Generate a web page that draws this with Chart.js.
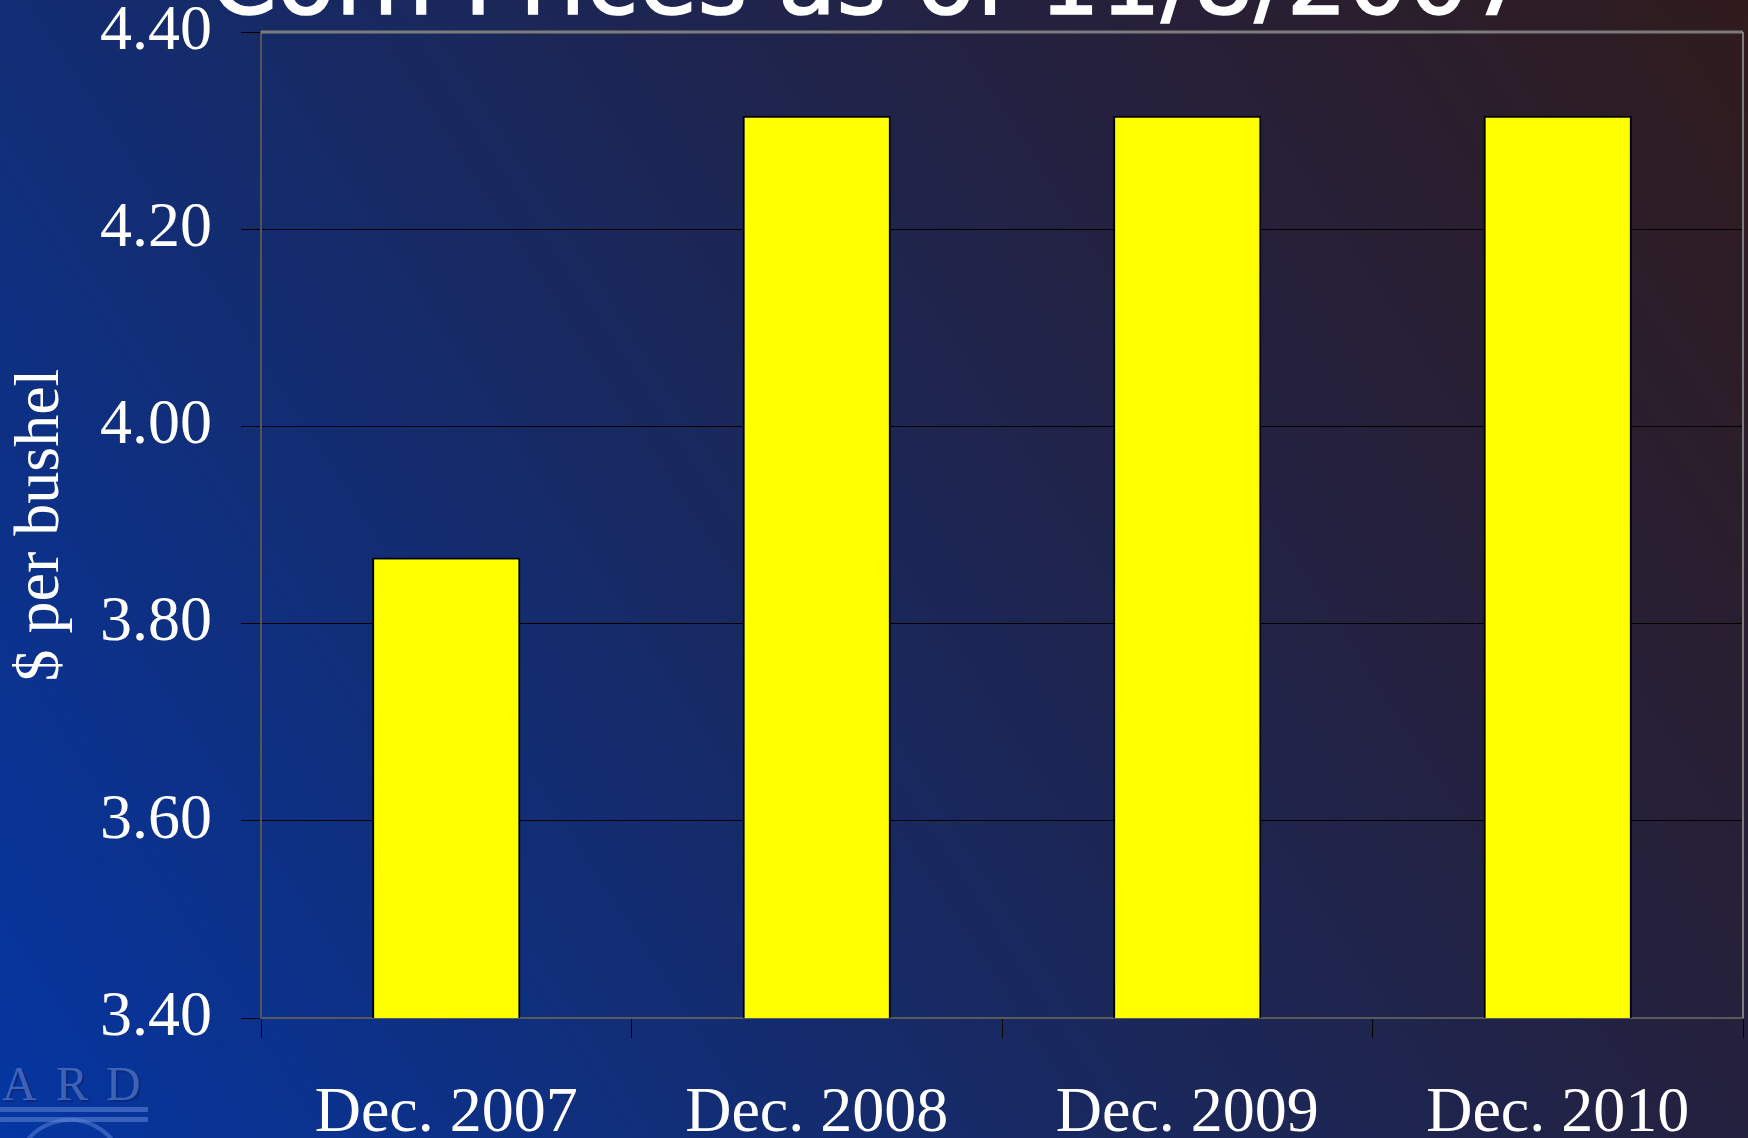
<!DOCTYPE html>
<html>
<head>
<meta charset="utf-8">
<script src="https://cdn.jsdelivr.net/npm/chart.js@4.4.1/dist/chart.umd.min.js"></script>
<style>
  html, body { margin: 0; padding: 0; background: #1c2656; }
  #wrap { width: 1748px; height: 1138px; position: relative; }
</style>
</head>
<body>
<div id="wrap"><canvas id="c" width="1748" height="1138"></canvas></div>
<script>
const chartTitle = "Corn Prices as of 11/8/2007";
const categories = ["Dec. 2007", "Dec. 2008", "Dec. 2009", "Dec. 2010"];
const prices = [3.867, 4.315, 4.315, 4.315];
const yTicks = [3.40, 3.60, 3.80, 4.00, 4.20, 4.40];
const yAxisTitle = "$ per bushel";

const bgPlugin = {
  id: 'bg',
  beforeDraw(chart) {
    const ctx = chart.ctx, W = chart.width, H = chart.height;
    ctx.save();
    const g = ctx.createLinearGradient(0, H, W, 0);
    g.addColorStop(0, '#0536a2');
    g.addColorStop(0.3, '#122d74');
    g.addColorStop(0.5, '#1b2758');
    g.addColorStop(0.7, '#24213f');
    g.addColorStop(1, '#301b1c');
    ctx.fillStyle = g;
    ctx.fillRect(0, 0, W, H);
    // faint embossed logo at bottom-left
    ctx.font = '48px "Liberation Serif"';
    ctx.textBaseline = 'alphabetic';
    const letters = ['C', 'A', 'R', 'D'];
    const xs = [-42, 2, 56, 106];
    letters.forEach((l, i) => {
      ctx.fillStyle = 'rgba(15,40,120,0.9)';
      ctx.fillText(l, xs[i] + 2, 1102);
      ctx.fillStyle = 'rgba(95,135,215,0.6)';
      ctx.fillText(l, xs[i], 1100);
    });
    ctx.fillStyle = 'rgba(95,135,215,0.55)';
    ctx.fillRect(0, 1107, 148, 5);
    ctx.fillRect(0, 1117, 148, 5);
    ctx.strokeStyle = 'rgba(95,135,215,0.5)';
    ctx.lineWidth = 4;
    ctx.beginPath();
    ctx.arc(70, 1175, 55, Math.PI * 1.15, Math.PI * 1.85);
    ctx.stroke();
    ctx.restore();
  },
  afterDraw(chart) {
    const ctx = chart.ctx, a = chart.chartArea;
    ctx.save();
    // title (only its lower part is visible)
    let size = 100;
    ctx.font = size + 'px "DejaVu Sans"';
    const w = ctx.measureText(chartTitle).width;
    size = size * 1320 / w;
    ctx.font = size + 'px "DejaVu Sans"';
    ctx.fillStyle = '#ffffff';
    ctx.strokeStyle = '#ffffff';
    ctx.lineWidth = 1.5;
    ctx.textAlign = 'center';
    ctx.textBaseline = 'alphabetic';
    ctx.fillText(chartTitle, 870, 14);
    ctx.strokeText(chartTitle, 870, 14);
    // plot border
    ctx.strokeStyle = '#7c7c7c';
    ctx.lineWidth = 3;
    ctx.beginPath();
    ctx.moveTo(a.left, a.top); ctx.lineTo(a.right, a.top);
    ctx.stroke();
    ctx.lineWidth = 2;
    ctx.beginPath();
    ctx.moveTo(a.right, a.top); ctx.lineTo(a.right, a.bottom);
    ctx.stroke();
    ctx.restore();
  }
};

new Chart(document.getElementById('c'), {
  type: 'bar',
  data: {
    labels: categories,
    datasets: [{
      data: prices,
      backgroundColor: '#ffff00',
      borderColor: '#000000',
      borderWidth: 2,
      barPercentage: 0.4,
      categoryPercentage: 1.0
    }]
  },
  options: {
    responsive: false,
    animation: false,
    layout: { padding: { top: 32, right: 5, left: 0, bottom: 0 } },
    plugins: { legend: { display: false }, tooltip: { enabled: false }, title: { display: false } },
    scales: {
      x: {
        offset: true,
        grid: { drawOnChartArea: false, drawTicks: true, tickLength: 20, tickColor: '#000000', tickWidth: 1, offset: true },
        border: { display: true, color: '#5a5a5a', width: 2 },
        ticks: { color: '#ffffff', padding: 38, font: { family: '"Liberation Serif"', size: 64 }, maxRotation: 0 },
        afterFit(scale) { scale.height = 120; }
      },
      y: {
        min: 3.4, max: 4.4,
        afterBuildTicks(scale) { scale.ticks = yTicks.map(v => ({ value: v })); },
        grid: {
          color: ctx => (ctx.tick && (Math.abs(ctx.tick.value - 4.4) < 1e-6 || Math.abs(ctx.tick.value - 3.4) < 1e-6)) ? 'rgba(0,0,0,0)' : '#000000',
          tickColor: '#000000', tickLength: 20, lineWidth: 1
        },
        border: { display: true, color: '#555555', width: 2 },
        ticks: {
          color: '#ffffff', padding: 29,
          font: { family: '"Liberation Serif"', size: 64, lineHeight: 0.03 },
          callback: v => Number(v).toFixed(2)
        },
        title: {
          display: true, text: yAxisTitle, color: '#ffffff',
          font: { family: '"Liberation Serif"', size: 64, lineHeight: 1 },
          padding: { top: 9, bottom: 0 }
        },
        afterFit(scale) { scale.width = 261; }
      }
    }
  },
  plugins: [bgPlugin]
});
</script>
</body>
</html>
